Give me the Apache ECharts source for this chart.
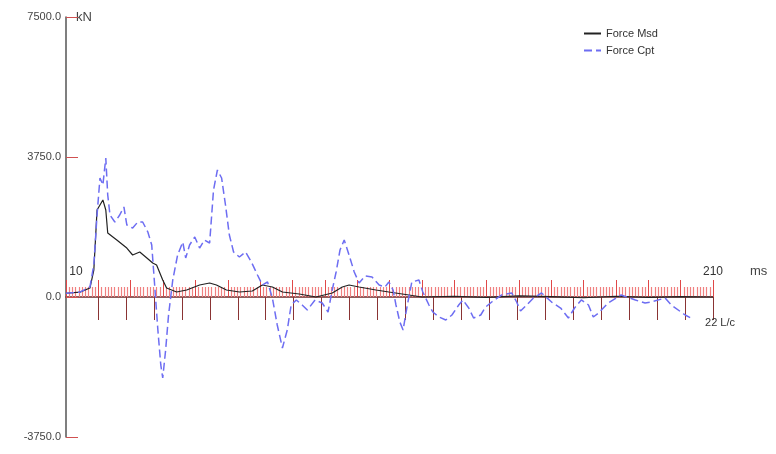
<!DOCTYPE html>
<html><head><meta charset="utf-8">
<script src="https://cdn.jsdelivr.net/npm/echarts@6/dist/echarts.min.js"></script>
<style>html,body{margin:0;padding:0;background:#fff}#c{width:776px;height:454px}</style>
</head><body><div id="c"></div>
<script>
// Time (ms) and force (kN)
var msdTime = [10,14.3,17.4,18.6,19.6,20.5,21.4,22.3,22.9,25.7,28.8,30.6,32.8,35.0,36.8,38.0,39.9,41.1,44.2,47.3,51.3,54.4,56.5,59.6,63.6,67.6,70.7,73.8,76.9,82.1,87.3,92.3,95.4,97.5,100.6,105.8,109.8,116.0,120.0,130,140,150,160,170,180,190,200,210];
var msdForce = [100,130,240,720,2330,2464,2600,2330,1714,1527,1312,1125,1205,1045,911,857,455,241,134,188,321,375,321,188,134,161,321,268,134,80,0,107,268,321,268,188,134,54,0,20,-10,30,10,-20,20,-10,10,0];
var cptTime = [10,14.3,17.4,18.6,19.6,20.5,21.4,22.3,22.9,23.6,25.1,26.6,27.9,28.8,30.6,32.2,33.7,35.3,36.5,37.4,38.4,39.3,39.9,40.8,41.7,43.0,44.5,46.1,47.0,48.2,49.8,51.3,52.8,54.4,55.6,56.8,58.1,59.3,60.5,61.8,63.6,65.5,67.3,69.2,70.7,72.3,73.8,75.3,76.9,78.4,79.6,81.2,83.0,84.6,87.0,89.2,91.0,92.3,93.5,94.7,96.0,97.5,99.1,100.6,102.5,104.6,106.8,108.6,109.8,111.1,112.0,113.2,114.2,115.4,116.9,119.1,120.3,122.2,123.4,125.3,127.4,129.3,131.4,132.7,134.5,136.0,138.2,139.7,141.6,144.7,147.8,149.3,150.5,152.4,154.5,157.0,160.1,162.9,165.3,167.2,169.3,171.5,173.0,174.6,177.6,181.6,186.0,189.0,190.9,195.2,197.1,201.4,203.2];
var cptForce = [100,130,270,860,2200,3188,3000,3723,2732,2196,2009,2196,2411,1929,1848,2009,2009,1741,1393,321,-884,-1821,-2170,-1420,-482,455,1125,1473,1045,1393,1607,1312,1527,1446,2866,3402,3188,2464,1661,1205,1071,1205,938,589,321,402,-27,-750,-1366,-884,-214,-80,-214,-348,-80,-161,-402,188,670,1259,1527,1125,670,375,563,536,321,268,402,188,-214,-670,-884,-268,402,455,134,-214,-402,-536,-616,-482,-214,-80,-295,-563,-482,-268,-134,54,107,-134,-375,-214,-27,107,-134,-295,-563,-295,-80,-214,-536,-429,-161,54,-80,-161,-134,-27,-214,-482,-563];
var seriesNames = ['Force Msd','Force Cpt'];
var yTicks = [-3750, 0, 3750, 7500];
var timeRange = [10, 210];
var lcRange = [0, 22];

function pairs(t, f){ return t.map(function(v,i){ return [v, f[i]]; }); }
var font = 'Liberation Sans, Arial, sans-serif';

var chart = echarts.init(document.getElementById('c'));
chart.setOption({
  animation: false,
  backgroundColor: '#ffffff',
  textStyle: { fontFamily: font },
  legend: {
    orient: 'vertical', left: 578, top: 23, itemWidth: 17, itemHeight: 10, itemGap: 6,
    textStyle: { fontSize: 11, color: '#333', fontFamily: font },
    itemStyle: { opacity: 0 },
    data: seriesNames.map(function(n){ return { name: n, itemStyle: { opacity: 0 } }; })
  },
  grid: [
    { left: 66, right: 63, top: 17, bottom: 17 },
    { left: 98, right: 63, top: 17, height: 280 },
    { left: 66, right: 63, top: 17, height: 280 }
  ],
  xAxis: [
    {
      type: 'value', gridIndex: 0, min: timeRange[0], max: timeRange[1], interval: 10,
      name: 'ms', nameLocation: 'end', nameGap: 37,
      nameTextStyle: { fontSize: 13, color: '#444', align: 'left', verticalAlign: 'bottom', padding: [0,0,19,0] },
      axisLine: { onZero: true, lineStyle: { color: '#6a2a2a', width: 1.5 } },
      axisTick: { inside: true, length: 17, lineStyle: { color: '#e04848' } },
      minorTick: { show: true, splitNumber: 10, length: 10, lineStyle: { color: '#f08080', width: 1.2 } },
      splitLine: { show: false },
      axisLabel: { show: false }
    },
    {
      type: 'value', gridIndex: 1, min: lcRange[0], max: lcRange[1], interval: 1,
      axisLine: { show: false },
      axisTick: { show: true, length: 23, lineStyle: { color: '#8a3434' } },
      splitLine: { show: false },
      axisLabel: {
        margin: 20, fontSize: 11, color: '#333',
        formatter: function(v){ return v === lcRange[1] ? '{a|' + v + ' L/c}' : ''; },
        rich: { a: { fontSize: 11, color: '#333', padding: [0,0,0,14] } }
      }
    },
    {
      type: 'value', gridIndex: 2, min: timeRange[0], max: timeRange[1], interval: 10,
      axisLine: { show: false }, axisTick: { show: false }, splitLine: { show: false },
      axisLabel: {
        inside: true, margin: 19, fontSize: 12, color: '#333',
        formatter: function(v){
          if (v === timeRange[0]) return '{a|' + v + '}';
          if (v === timeRange[1]) return String(v);
          return '';
        },
        rich: { a: { fontSize: 12, color: '#333', padding: [0,0,0,20] } }
      }
    }
  ],
  yAxis: [
    {
      type: 'value', gridIndex: 0, min: yTicks[0], max: yTicks[3], interval: 3750,
      name: 'kN', nameLocation: 'end', nameGap: 0,
      nameTextStyle: { fontSize: 13, color: '#444', align: 'left', verticalAlign: 'middle', padding: [0,0,0,10] },
      axisLine: { show: true, lineStyle: { color: '#555', width: 1.5 } },
      axisTick: { show: true, inside: true, length: 12, lineStyle: { color: '#d05050' } },
      splitLine: { show: false },
      axisLabel: { margin: 5, fontSize: 11, color: '#444', formatter: function(v){ return v.toFixed(1); } }
    },
    { type: 'value', gridIndex: 1, min: 0, max: 7500, show: false },
    { type: 'value', gridIndex: 2, min: 0, max: 7500, show: false }
  ],
  series: [
    {
      name: seriesNames[0], type: 'line', xAxisIndex: 0, yAxisIndex: 0, symbol: 'none',
      data: pairs(msdTime, msdForce), z: 3,
      lineStyle: { color: '#222', width: 1.2 }, itemStyle: { color: '#222' }
    },
    {
      name: seriesNames[1], type: 'line', xAxisIndex: 0, yAxisIndex: 0, symbol: 'none',
      data: pairs(cptTime, cptForce), z: 4,
      lineStyle: { color: '#6d6df2', width: 1.5, type: [8,4] }, itemStyle: { color: '#6d6df2' }
    }
  ]
});
</script></body></html>
